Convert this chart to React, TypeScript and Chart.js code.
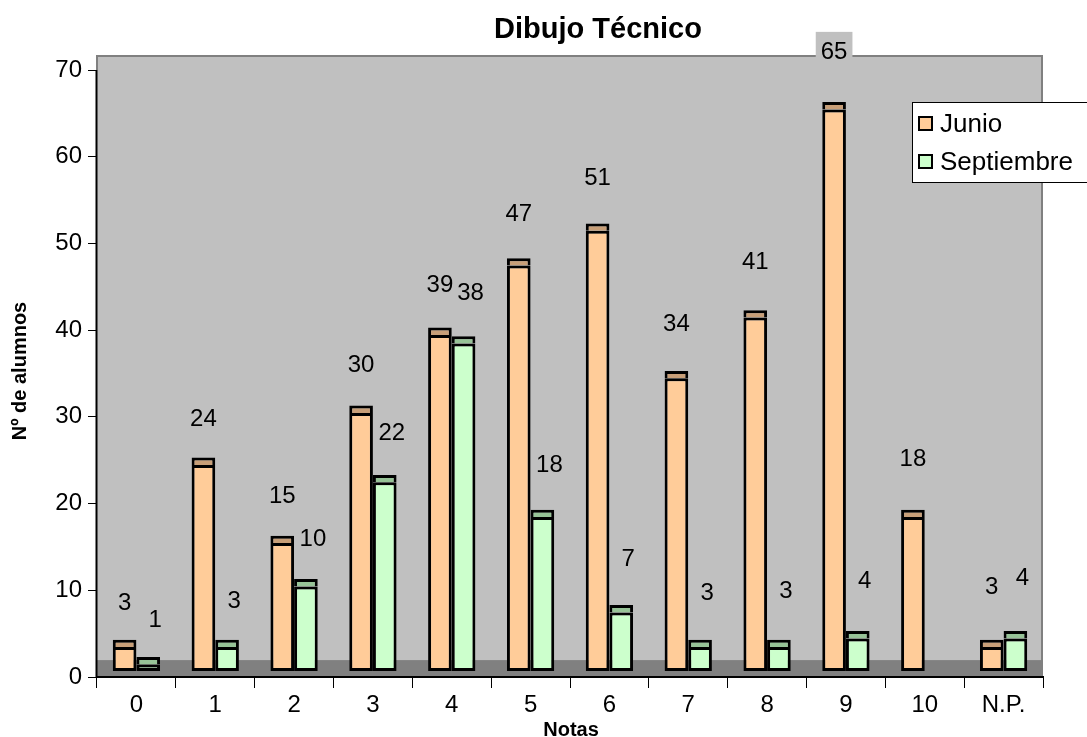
import React, { useEffect, useRef } from 'react';
import { Chart, registerables } from 'chart.js';

Chart.register(...registerables);

const categories = ['0', '1', '2', '3', '4', '5', '6', '7', '8', '9', '10', 'N.P.'];
const junio: (number | null)[] = [3, 24, 15, 30, 39, 47, 51, 34, 41, 65, 18, 3];
const septiembre: (number | null)[] = [1, 3, 10, 22, 38, 18, 7, 3, 3, 4, null, 4];
const seriesNames = ['Junio', 'Septiembre'];
const chartTitle = 'Dibujo Técnico';
const xTitle = 'Notas';
const yTitle = 'Nº de alumnos';

// pseudo-3D offsets (value units) used by the Excel-style rendering
const BAR_BASE = 0.7;
const CAP_LOW = 0.45;
const CAP_HIGH = 1.3;
const FLOOR_TOP = 1.95;
const Y_MAX = 71.73;

const JUNIO_FILL = '#FFCC99';
const JUNIO_CAP = '#C89F78';
const SEPT_FILL = '#CCFFCC';
const SEPT_CAP = '#97C397';
const FONT = '"Liberation Sans", Arial, sans-serif';

const body = (vals: (number | null)[]) => vals.map((v) => (v == null ? null : [BAR_BASE, v + CAP_LOW]));
const cap = (vals: (number | null)[]) => vals.map((v) => (v == null ? null : [v + CAP_LOW, v + CAP_HIGH]));

function labelItems(chart: any) {
  const y = chart.scales.y;
  const out: { txt: string; x: number; y: number }[] = [];
  const series = [
    { vals: junio, meta: chart.getDatasetMeta(1), dx: 0 },
    { vals: septiembre, meta: chart.getDatasetMeta(3), dx: 7 },
  ];
  series.forEach((s) => {
    s.vals.forEach((v, i) => {
      if (v == null) return;
      const el = s.meta.data[i];
      const cx = el.x + s.dx;
      const lift = 36 + 0.018 * (el.x - 100);
      out.push({ txt: String(v), x: cx, y: y.getPixelForValue(v + CAP_HIGH) - lift });
    });
  });
  return out;
}

const decorPlugin = {
  id: 'decor',
  beforeDraw(chart: any) {
    const { ctx, chartArea: a, scales } = chart;
    const y = scales.y;
    ctx.save();
    ctx.fillStyle = '#FFFFFF';
    ctx.fillRect(0, 0, chart.width, chart.height);
    ctx.fillStyle = '#C0C0C0';
    ctx.fillRect(a.left, a.top, a.right - a.left, a.bottom - a.top);
    const fy = y.getPixelForValue(FLOOR_TOP);
    ctx.fillStyle = '#808080';
    ctx.fillRect(a.left, fy, a.right - a.left, a.bottom - fy);
    ctx.strokeStyle = '#808080';
    ctx.lineWidth = 2;
    ctx.beginPath();
    ctx.moveTo(a.left, y.getPixelForValue(70));
    ctx.lineTo(a.left, a.top + 1);
    ctx.lineTo(a.right - 1, a.top + 1);
    ctx.lineTo(a.right - 1, a.bottom);
    ctx.stroke();
    ctx.restore();
  },
  beforeDatasetsDraw(chart: any) {
    const { ctx, chartArea: a, scales } = chart;
    ctx.save();
    // label backgrounds (behind bars)
    ctx.font = `24px ${FONT}`;
    ctx.fillStyle = '#C0C0C0';
    labelItems(chart).forEach((l) => {
      const w = ctx.measureText(l.txt).width + 10;
      ctx.fillRect(l.x - w / 2, l.y - 21, w, 42);
    });
    ctx.strokeStyle = '#000000';
    ctx.lineWidth = 2;
    ctx.beginPath();
    ctx.moveTo(a.left - 0.5, scales.y.getPixelForValue(70));
    ctx.lineTo(a.left - 0.5, a.bottom + 1);
    ctx.stroke();
    ctx.restore();
  },
  afterDraw(chart: any) {
    const { ctx } = chart;
    ctx.save();
    // data labels
    ctx.font = `24px ${FONT}`;
    ctx.textAlign = 'center';
    ctx.textBaseline = 'middle';
    ctx.fillStyle = '#000000';
    labelItems(chart).forEach((l) => ctx.fillText(l.txt, l.x, l.y));
    // legend
    ctx.fillStyle = '#FFFFFF';
    ctx.fillRect(912, 102, 180, 80);
    ctx.strokeStyle = '#000000';
    ctx.lineWidth = 1;
    ctx.strokeRect(912.5, 102.5, 180, 80);
    const fills = [JUNIO_FILL, SEPT_FILL];
    const rowsY = [124, 162];
    ctx.font = `26px ${FONT}`;
    ctx.textAlign = 'left';
    ctx.textBaseline = 'middle';
    seriesNames.forEach((n, k) => {
      ctx.fillStyle = fills[k];
      ctx.fillRect(919, rowsY[k] - 7, 13, 13);
      ctx.strokeStyle = '#000000';
      ctx.lineWidth = 2;
      ctx.strokeRect(919, rowsY[k] - 7, 13, 13);
      ctx.fillStyle = '#000000';
      ctx.fillText(n, 940, rowsY[k] + 1);
    });
    // titles
    ctx.textAlign = 'center';
    ctx.textBaseline = 'alphabetic';
    ctx.font = `bold 29px ${FONT}`;
    ctx.fillText(chartTitle, 598, 38);
    ctx.font = `bold 20px ${FONT}`;
    ctx.fillText(xTitle, 571, 736);
    ctx.translate(26, 371);
    ctx.rotate(-Math.PI / 2);
    ctx.fillText(yTitle, 0, 0);
    ctx.restore();
  },
};

export default function App() {
  const ref = useRef<HTMLCanvasElement | null>(null);
  useEffect(() => {
    document.body.style.margin = '0';
    document.body.style.overflow = 'hidden';
    const canvas = ref.current!;
    const common = { borderColor: '#000000', borderWidth: 3, categoryPercentage: 0.6, barPercentage: 1.0 };
    const chart = new Chart(canvas, {
      type: 'bar',
      data: {
        labels: categories,
        datasets: [
          { ...common, label: seriesNames[0], stack: 'j', data: body(junio) as any, backgroundColor: JUNIO_FILL, borderSkipped: false },
          { ...common, label: seriesNames[0] + ' cap', stack: 'j', data: cap(junio) as any, backgroundColor: JUNIO_CAP, borderSkipped: 'bottom' },
          { ...common, label: seriesNames[1], stack: 's', data: body(septiembre) as any, backgroundColor: SEPT_FILL, borderSkipped: false },
          { ...common, label: seriesNames[1] + ' cap', stack: 's', data: cap(septiembre) as any, backgroundColor: SEPT_CAP, borderSkipped: 'bottom' },
        ],
      },
      options: {
        responsive: false,
        animation: false,
        devicePixelRatio: 1,
        layout: { padding: { left: 0, right: 44, top: 55, bottom: 0 } },
        plugins: { legend: { display: false }, title: { display: false }, tooltip: { enabled: false } },
        scales: {
          x: {
            stacked: true,
            offset: true,
            grid: { display: true, offset: true, drawOnChartArea: false, drawTicks: true, tickLength: 11, color: '#000000', lineWidth: 1 },
            border: { display: true, color: '#000000', width: 2 },
            ticks: { color: '#000000', font: { family: FONT, size: 24 }, padding: 3, maxRotation: 0, autoSkip: false },
            afterFit: (s: any) => { s.height = 60; },
          },
          y: {
            stacked: false,
            min: 0,
            max: Y_MAX,
            grid: { display: true, drawOnChartArea: false, drawTicks: true, tickLength: 9, color: '#000000', lineWidth: 1 },
            border: { display: false },
            ticks: { stepSize: 10, includeBounds: false, color: '#000000', font: { family: FONT, size: 24 }, padding: 6 },
            afterFit: (s: any) => { s.width = 97; },
          },
        },
      },
      plugins: [decorPlugin],
    });
    return () => chart.destroy();
  }, []);
  return <canvas ref={ref} width={1087} height={737} style={{ display: 'block', width: 1087, height: 737 }} />;
}
